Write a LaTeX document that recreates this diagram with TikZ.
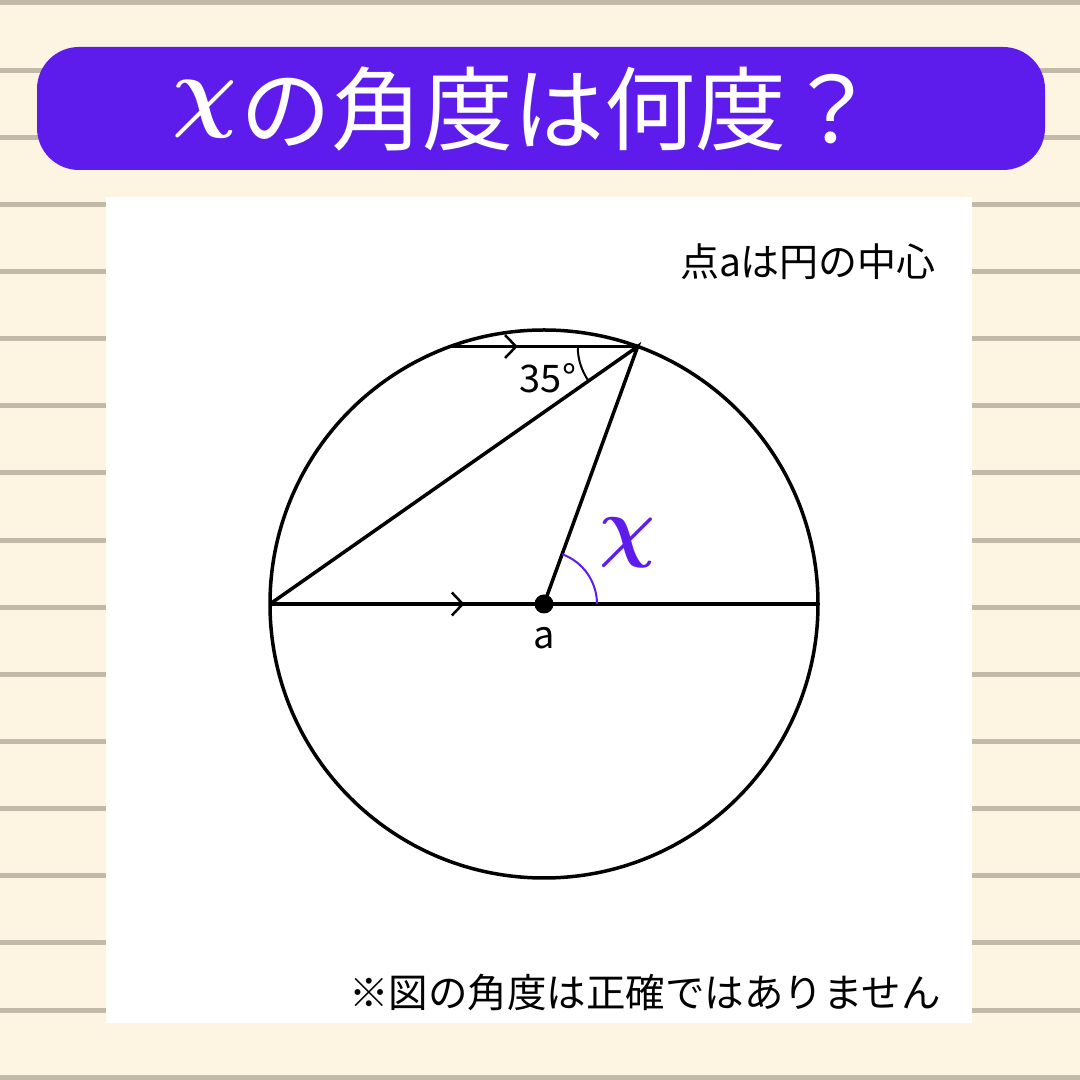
\documentclass[tikz,border=0pt]{standalone}
\usepackage{fontspec}
\setmainfont{Noto Sans CJK JP}
\usetikzlibrary{arrows.meta,decorations.markings}
\definecolor{cream}{RGB}{253,245,225}
\definecolor{ruleline}{RGB}{194,186,168}
\definecolor{qpurple}{RGB}{94,28,236}
\newcommand{\chisym}[1]{\scalebox{#1}{\normalsize\boldmath$\chi$}}
\tikzset{
  edge/.style={line width=3.5pt},
  midarrow/.style={postaction={decorate},decoration={markings,
    mark=at position #1 with {\arrow{Straight Barb[length=11pt,width=23pt,line width=2.5pt]}}}},
}
\begin{document}
\begin{tikzpicture}[x=1pt,y=1pt]
   % note paper
   \fill[cream] (0,0) rectangle (1080,1080);
   \foreach \k in {0,...,16}
      \fill[ruleline] (0,{1079.5-67.14*\k}) rectangle (1080,{1074.5-67.14*\k});
   \useasboundingbox (0,0) rectangle (1080,1080);

   % title
   \fill[qpurple,rounded corners=42pt] (37,910) rectangle (1045,1033);
   \node[text=white,font=\fontsize{91}{91}\selectfont] (title) at (525,971)
      {\smash{\raisebox{23pt}{\chisym{9}}}\kern4pt の角度は何度？};

   % panel
   \fill[white] (106,57) rectangle (972,883);
   \node[font=\fontsize{39}{39}\selectfont] (hint) at (808,818) {点aは円の中心};
   \node[font=\fontsize{39.5}{39.5}\selectfont] (note) at (645,87) {※図の角度は正確ではありません};

   % circle and chords
   \coordinate (O) at (544,476);
   \draw[edge] (O) circle (274);
   \path (O) ++(180:274) coordinate (L);
   \path (O) ++(0:274) coordinate (R);
   \path (O) ++(70:274) coordinate (P);
   \path (O) ++(110:274) coordinate (Q);

   \draw[edge,midarrow=0.71] (L) -- (O);
   \draw[edge] (O) -- (R);
   \draw[edge,midarrow=0.36] (Q) -- (P);
   \draw[edge] (L) -- (P) -- (O);

   % angles
   \draw[line width=2pt] (P) ++(180:60) arc(180:214.9:60);
   \node[font=\fontsize{38}{38}\selectfont] (given) at (548,702) {35°};
   \draw[line width=2pt,color=qpurple] (O) ++(0:53) arc(0:70:53);
   \node[text=qpurple,inner sep=0pt] (unknown) at (627,537) {\chisym{7.8}};

   \node[circle,fill,inner sep=0pt,minimum size=19pt] (dot) at (O) {};
   \node[font=\fontsize{38}{38}\selectfont] (alabel) at (544,442) {a};
\end{tikzpicture}
\end{document}
